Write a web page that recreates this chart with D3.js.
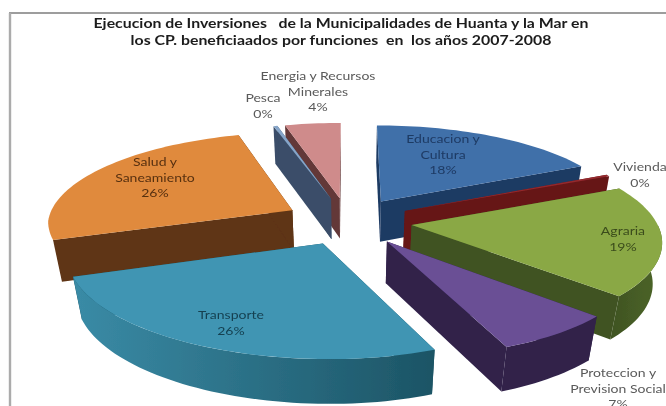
<!DOCTYPE html>
<html>
<head>
<meta charset="utf-8">
<script src="https://cdn.jsdelivr.net/npm/d3@7"></script>
<style>
html, body { margin: 0; padding: 0; background: #fff; overflow: hidden; }
svg { display: block; }
text { font-family: Lato, "Open Sans", sans-serif; }
</style>
</head>
<body>
<div id="chart"></div>
<script>
// values, the labels round them to whole percents
var categories = ['Educacion y Cultura', 'Vivienda', 'Agraria', 'Proteccion y Prevision Social',
	'Transporte', 'Salud y Saneamiento', 'Pesca', 'Energia y Recursos Minerales'];
var values = [17.9, 0.3, 18.9, 6.9, 25.8, 25.6, 0.3, 4.3];
var topColors = ['#3f6fa9', '#94292d', '#8aa845', '#6a4f95', '#3f95b3', '#e08a3d', '#86a5c9', '#cf8b8b'];
var sideColors = ['#1f3b64', '#661618', '#3f5322', '#30214a', '#1c5465', '#5e3413', '#3a4e69', '#633838'];
var rimColors = ['#1f3b64', '#661618', '#4d6629', '#30214a', '#3a8ba6', '#5e3413', '#3a4e69', '#633838'];
var labelColors = ['#1f3b64', '#5a5a5a', '#3b4c1c', '#5a5a5a', '#153f4f', '#573010', '#5a5a5a', '#5a5a5a'];
var titleLines = ['Ejecucion de Inversiones   de la Municipalidades de Huanta y la Mar en',
	'los CP. beneficiaados por funciones  en  los años 2007-2008'];

// label lines and where they sit, by category
var labelLines = [['Educacion y', 'Cultura'], ['Vivienda'], ['Agraria'], ['Proteccion y', 'Prevision Social'],
	['Transporte'], ['Salud y', 'Saneamiento'], ['Pesca'], ['Energia y Recursos', 'Minerales']];
var labelX = [443, 640, 623, 618, 231, 155, 263, 318];
var labelY = [143, 171, 235, 377, 319, 166, 102, 80];

var width = 666;
var height = 406;

var svg = d3.select('#chart').append('svg')
	.attr('width', width)
	.attr('height', height);

var defs = svg.append('defs');
defs.append('filter')
	.attr('id', 'soft')
	.append('feGaussianBlur')
	.attr('stdDeviation', 0.45);

// plot frame, only the top and left sides are in the picture
svg.append('line')
	.attr('x1', 9).attr('x2', width)
	.attr('y1', 13).attr('y2', 13)
	.attr('stroke', '#7d7d7d')
	.attr('stroke-width', 1.4);
svg.append('line')
	.attr('x1', 10).attr('x2', 10)
	.attr('y1', 13).attr('y2', height)
	.attr('stroke', '#ababab')
	.attr('stroke-width', 2.4);

var chart = svg.append('g').attr('filter', 'url(#soft)');

// pie plane coords run from -1 to 1, the scales put them on the page
var xScale = d3.scaleLinear().domain([-1, 1]).range([348 - 245, 348 + 245]);
var yScale = d3.scaleLinear().domain([-1, 1]).range([221 - 92, 221 + 92]);

var perspective = 0.143;
var lowerShrink = 0.03;
var thickness = 0.46;
var shear = 0.045;
var explode = 0.26;
var textStretch = 1.22;

// part of the round rim whose outer wall faces the viewer
var wallFrom = Math.PI / 2;
var wallTo = 251 * Math.PI / 180;

// X goes right, Y comes toward the viewer, z is 0 on top and 1 underneath
function project(X, Y, z) {
	var w = 1 - perspective * Y + lowerShrink * z;
	return [
		xScale(X / w + shear * Math.max(Y, 0) * (1 - 0.7 * Math.max(X, 0))),
		yScale((Y + thickness * z) / w)
	];
}

var pie = d3.pie().sort(null).startAngle(0).endAngle(2 * Math.PI);
var slices = pie(values).map(function(d, i) {
	var mid = (d.startAngle + d.endAngle) / 2;
	d.index = i;
	d.mid = mid;
	d.ox = explode * Math.sin(mid);
	d.oy = -explode * Math.cos(mid);
	return d;
});

function rimPoints(d, z, from, to) {
	var n = Math.max(2, Math.ceil((to - from) / 0.03));
	return d3.range(n + 1).map(function(i) {
		var a = from + (to - from) * i / n;
		return project(d.ox + Math.sin(a), d.oy - Math.cos(a), z);
	});
}

function apex(d, z) {
	return project(d.ox, d.oy, z);
}

var line = d3.line().curve(d3.curveLinear);
function closed(points) {
	return line(points) + 'Z';
}

// back slices first so the front ones cover them
var ordered = slices.slice().sort(function(a, b) {
	return d3.ascending(-Math.cos(a.mid), -Math.cos(b.mid));
});

ordered.forEach(function(d) {
	var g = chart.append('g').attr('class', 'slice slice' + d.index);
	var top = rimPoints(d, 0, d.startAngle, d.endAngle);
	var under = rimPoints(d, 1, d.startAngle, d.endAngle);
	var side = sideColors[d.index];

	var gradId = 'rim' + d.index;
	var grad = defs.append('linearGradient').attr('id', gradId);
	grad.append('stop').attr('offset', '0%').attr('stop-color', d.index === 4 ? rimColors[d.index] : side);
	grad.append('stop').attr('offset', '100%').attr('stop-color', d.index === 4 ? side : rimColors[d.index]);

	// flat cut walls
	g.append('path')
		.attr('d', closed([apex(d, 0), top[0], under[0], apex(d, 1)]))
		.attr('fill', side);
	g.append('path')
		.attr('d', closed([apex(d, 0), top[top.length - 1], under[under.length - 1], apex(d, 1)]))
		.attr('fill', side);

	// round outer wall, only the part that can be seen
	var a0 = Math.max(d.startAngle, wallFrom);
	var a1 = Math.min(d.endAngle, wallTo);
	if (a1 > a0) {
		g.append('path')
			.attr('d', closed(rimPoints(d, 0, a0, a1).concat(rimPoints(d, 1, a0, a1).reverse())))
			.attr('fill', 'url(#' + gradId + ')');
	}

	g.append('path')
		.attr('d', closed([apex(d, 0)].concat(top)))
		.attr('fill', topColors[d.index]);
});

// the picture is stretched sideways, the text has to follow
function stretch() {
	this.setAttribute('lengthAdjust', 'spacingAndGlyphs');
	this.setAttribute('textLength', this.getComputedTextLength() * textStretch);
}

var percent = d3.format('.0%');
var total = d3.sum(values);
var lineHeight = 15.5;

var labels = chart.append('g')
	.attr('font-size', 11.5)
	.attr('text-anchor', 'middle');

categories.forEach(function(name, i) {
	var rows = labelLines[i].concat(percent(values[i] / total));
	labels.append('g')
		.attr('class', 'label')
		.attr('fill', labelColors[i])
		.selectAll('text')
		.data(rows)
		.enter().append('text')
		.attr('x', labelX[i])
		.attr('y', function(r, j) { return labelY[i] + j * lineHeight; })
		.text(function(r) { return r; })
		.each(stretch);
});

chart.append('g')
	.attr('class', 'title')
	.attr('font-size', 13)
	.attr('font-weight', 700)
	.attr('fill', '#1c1c1c')
	.attr('text-anchor', 'middle')
	.selectAll('text')
	.data(titleLines)
	.enter().append('text')
	.attr('x', 341)
	.attr('y', function(d, i) { return 28 + i * 17; })
	.style('white-space', 'pre')
	.text(function(d) { return d; })
	.each(stretch);
</script>
</body>
</html>
